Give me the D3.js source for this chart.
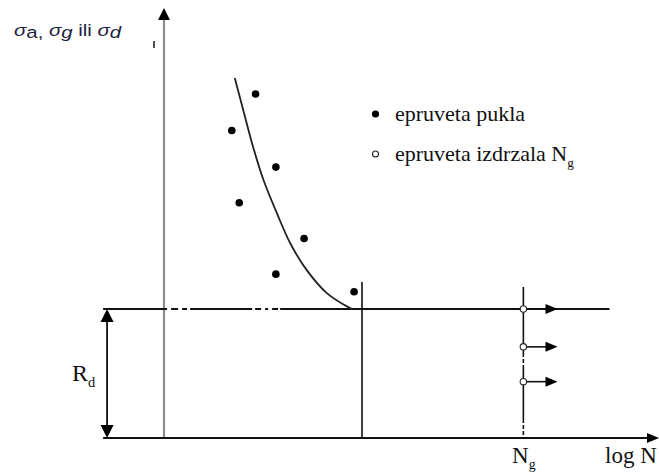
<!DOCTYPE html>
<html><head><meta charset="utf-8">
<script src="https://cdn.jsdelivr.net/npm/d3@7"></script>
<style>html,body{margin:0;padding:0;background:#fff;} svg{display:block;}</style>
</head><body>
<svg id="chart" width="659" height="476"></svg>
<script>
// ---- data (log N in abstract units, sigma in abstract units) ----
const failedLogN  = [1.85, 1.37, 2.26, 1.52, 2.83, 2.26, 3.84];
const failedSigma = [80.0, 71.5, 63.0, 54.7, 46.4, 38.1, 34.0];
const curveLogN   = [1.43, 1.60, 1.80, 2.01, 2.28, 2.55, 2.88, 3.29, 3.76, 3.80];
const curveSigma  = [83.7, 76.3, 67.7, 60.0, 52.3, 45.3, 39.1, 33.7, 30.2, 30.0];
const runoutSigma = [30, 21.2, 13.1];
const Ng = 7.26;
const Rd = 30;
const kneeLogN = 4.0;
const kneeTop = 36.3;
const ngTop = 35.1;
const runoutArrowEnd = 7.95;
const enduranceExtent = [-1.23, 9.0];
const xAxisExtent = [-1.23, 10];
const yAxisMax = 100;
const legendLabels = ["epruveta pukla", "epruveta izdrzala N"];
const legendSub = ["", "g"];
const xAxisLabel = "log N";
const ngLabel = ["N", "g"];
const rdLabel = ["R", "d"];

const svg = d3.select("#chart");
const x = d3.scaleLinear().domain([0, 10]).range([164, 659]);
const y = d3.scaleLinear().domain([0, 100]).range([438, 8]);

function arrowHead(tipX, tipY, dx, dy, len, hw, fill) {
  const px = -dy, py = dx;
  const bx = tipX - dx * len, by = tipY - dy * len;
  svg.append("path")
    .attr("d", `M${tipX},${tipY}L${bx + px*hw},${by + py*hw}L${bx - px*hw},${by - py*hw}Z`)
    .attr("fill", fill || "#000");
}

// y axis (gray) with arrow
svg.append("line").attr("x1", x(0)).attr("x2", x(0)).attr("y1", y(0)).attr("y2", y(yAxisMax) + 10)
  .attr("stroke", "#8c8c8c").attr("stroke-width", 2.2);
arrowHead(x(0), y(yAxisMax), 0, -1, 12, 6);

// x axis with arrow
svg.append("line").attr("x1", x(xAxisExtent[0])).attr("x2", x(xAxisExtent[1]) - 10)
  .attr("y1", y(0)).attr("y2", y(0)).attr("stroke", "#111").attr("stroke-width", 2);
arrowHead(x(xAxisExtent[1]), y(0), 1, 0, 12, 5);

// endurance line (with small dash-dot breaks)
svg.append("line").attr("x1", x(enduranceExtent[0])).attr("x2", x(enduranceExtent[1]))
  .attr("y1", y(Rd)).attr("y2", y(Rd)).attr("stroke", "#111").attr("stroke-width", 1.8)
  .attr("stroke-dasharray", "64,4,7,4,5,3,62,3,6,4,3,4,6,2,600");

// knee vertical line
svg.append("line").attr("x1", x(kneeLogN)).attr("x2", x(kneeLogN))
  .attr("y1", y(kneeTop)).attr("y2", y(0)).attr("stroke", "#111").attr("stroke-width", 1.6);

// Ng vertical line
svg.append("line").attr("x1", x(Ng)).attr("x2", x(Ng))
  .attr("y1", y(ngTop)).attr("y2", y(0)).attr("stroke", "#111").attr("stroke-width", 1.6)
  .attr("stroke-dasharray", "70,2,4,2,58,2,4,2,4,2,4");

// Rd double arrow
svg.append("line").attr("x1", x(-1.15)).attr("x2", x(-1.15))
  .attr("y1", y(Rd) + 10).attr("y2", y(0) - 10).attr("stroke", "#111").attr("stroke-width", 1.8);
arrowHead(x(-1.15), y(Rd), 0, -1, 13, 6.5);
arrowHead(x(-1.15), y(0), 0, 1, 13, 6.5);

// S-N curve
const line = d3.line().x(d => x(d[0])).y(d => y(d[1])).curve(d3.curveCatmullRom);
svg.append("path").datum(d3.zip(curveLogN, curveSigma)).attr("d", line)
  .attr("fill", "none").attr("stroke", "#222").attr("stroke-width", 1.8);

// failed specimens
svg.selectAll("circle.f").data(d3.zip(failedLogN, failedSigma)).join("circle")
  .attr("class", "f").attr("cx", d => x(d[0])).attr("cy", d => y(d[1])).attr("r", 3.8).attr("fill", "#000");

// run-out arrows and circles
runoutSigma.forEach(s => {
  svg.append("line").attr("x1", x(Ng)).attr("x2", x(runoutArrowEnd) - 10)
    .attr("y1", y(s)).attr("y2", y(s)).attr("stroke", "#111").attr("stroke-width", 1.6);
  arrowHead(x(runoutArrowEnd), y(s), 1, 0, 12, 5);
});
svg.selectAll("circle.r").data(runoutSigma).join("circle")
  .attr("class", "r").attr("cx", x(Ng)).attr("cy", d => y(d)).attr("r", 3.2)
  .attr("fill", "#fff").attr("stroke", "#222").attr("stroke-width", 1.1);

// stray mark near y axis top
svg.append("line").attr("x1", 154).attr("x2", 154).attr("y1", 41).attr("y2", 48)
  .attr("stroke", "#222").attr("stroke-width", 1.6);

// labels
const serif = "'Liberation Serif','Times New Roman',serif";
function serifText(tx, ty, main, sub, size) {
  const t = svg.append("text").attr("x", tx).attr("y", ty)
    .attr("font-family", serif).attr("font-size", size).attr("fill", "#111");
  t.append("tspan").text(main);
  if (sub) t.append("tspan").attr("font-size", size * 0.6).attr("dy", size * 0.25).text(sub);
  return t;
}
// legend
svg.append("circle").attr("cx", 375.5).attr("cy", 114).attr("r", 3.6).attr("fill", "#000");
svg.append("circle").attr("cx", 375.5).attr("cy", 154).attr("r", 3).attr("fill", "#fff")
  .attr("stroke", "#222").attr("stroke-width", 1.1);
serifText(395, 121, legendLabels[0], legendSub[0], 22);
serifText(395, 161, legendLabels[1], legendSub[1], 22);

// axis labels
serifText(512, 463, ngLabel[0], ngLabel[1], 23);
serifText(605, 463, xAxisLabel, "", 23);
serifText(72, 381, rdLabel[0], rdLabel[1], 24);

// y label: σa, σg ili σd
const yl = svg.append("text").attr("transform", "translate(14,36) scale(1.2,1)")
  .attr("font-family", "'Liberation Sans',Arial,sans-serif").attr("font-size", 17).attr("fill", "#1e1e3c");
[["σ", "italic", 0], ["a,", "normal", 2], [" σ", "italic", -2], ["g", "italic", 2], [" ili ", "normal", -2], ["σ", "italic", 0], ["d", "italic", 2]]
  .forEach(([s, st, dy]) => yl.append("tspan").attr("font-style", st).attr("dy", dy).text(s));
</script>
</body></html>
